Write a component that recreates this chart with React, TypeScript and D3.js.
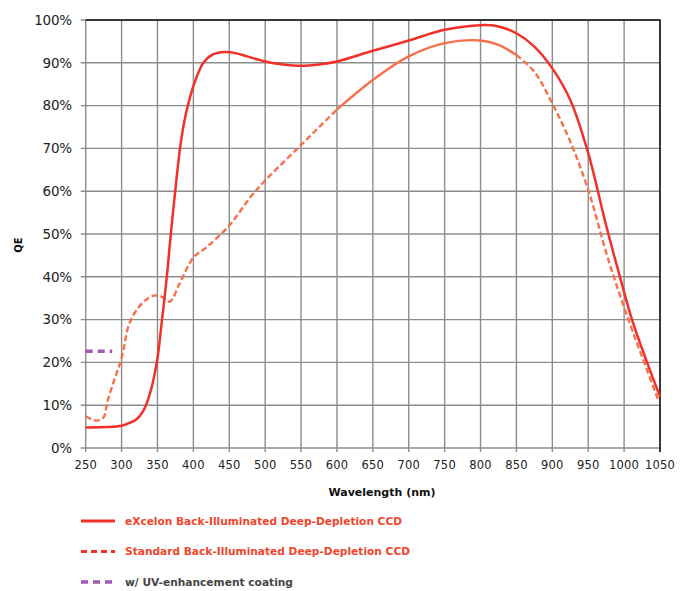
import { useEffect, useRef } from 'react';
import * as d3 from 'd3';

// eXcelon curve (solid red)
const excelonNm = [250, 300, 310, 320, 330, 340, 350, 355, 363, 368, 375, 381, 387, 393, 402, 414, 428, 444, 460, 475, 500, 525, 550, 575, 600, 650, 700, 750, 800, 825, 850, 875, 900, 925, 950, 975, 995, 1011, 1032, 1050];
const excelonQE = [4.8, 5.2, 5.8, 6.6, 8.6, 13, 21, 28, 40, 49, 60.5, 69.5, 76, 80.5, 85.5, 90, 92, 92.5, 92.2, 91.5, 90.3, 89.6, 89.3, 89.6, 90.3, 92.8, 95.2, 97.7, 98.8, 98.5, 96.9, 93.8, 88.7, 81.3, 68.9, 52, 39.5, 30, 20, 12];

// standard back-illuminated curve (orange)
const standardNm = [250, 265, 275, 280, 290, 300, 310, 320, 333, 345, 355, 367, 381, 400, 419, 450, 479, 500, 550, 600, 650, 700, 750, 800, 825, 850, 875, 900, 925, 950, 978, 1006, 1028, 1048];
const standardQE = [7.4, 6.4, 7.2, 10.7, 16, 21, 28.7, 32, 34.5, 35.6, 35.4, 34.2, 38.5, 44.5, 47, 52, 58.5, 62.5, 70.8, 79.1, 86, 91.5, 94.6, 95.2, 94.2, 91.8, 87.9, 80.5, 71.6, 60.3, 44, 30, 20, 11];

// UV enhancement coating
const uvNm = [250, 287];
const uvQE = [22.6, 22.6];

const xTicks = [250, 300, 350, 400, 450, 500, 550, 600, 650, 700, 750, 800, 850, 900, 950, 1000, 1050];
const yTicks = [0, 10, 20, 30, 40, 50, 60, 70, 80, 90, 100];

const legendItems = [
  { label: 'eXcelon Back-Illuminated Deep-Depletion CCD', color: '#f2302a', dash: null, text: '#f0452c', len: 277 },
  { label: 'Standard Back-Illuminated Deep-Depletion CCD', color: '#f2302a', dash: '6,4', text: '#f0452c', len: 285 },
  { label: 'w/ UV-enhancement coating', color: '#a257b5', dash: '7,5', text: '#444', len: 168 },
];

export default function App() {
  const svgRef = useRef<SVGSVGElement>(null);

  useEffect(() => {
    const w = 682;
    const h = 591;
    const svg = d3.select(svgRef.current).attr('width', w).attr('height', h);
    svg.selectAll('*').remove();
    const font = 'DejaVu Sans, sans-serif';

    const x = d3.scaleLinear().domain([250, 1050]).range([85.7, 660]);
    const y = d3.scaleLinear().domain([0, 100]).range([448, 20]);

    // grid
    svg.append('g').selectAll('line').data(xTicks).enter().append('line')
      .attr('x1', d => x(d)).attr('x2', d => x(d))
      .attr('y1', y(0) + 4).attr('y2', y(100))
      .attr('stroke', '#8c8c8c').attr('stroke-width', 1.4);
    svg.append('g').selectAll('line').data(yTicks).enter().append('line')
      .attr('x1', x(250) - 5).attr('x2', x(1050))
      .attr('y1', d => y(d)).attr('y2', d => y(d))
      .attr('stroke', '#8c8c8c').attr('stroke-width', 1.4);

    // top/right frame
    svg.append('path')
      .attr('d', `M${x(250)},${y(100)}H${x(1050)}V${y(0) + 4}`)
      .attr('fill', 'none').attr('stroke', '#111').attr('stroke-width', 1.5);

    // tick labels
    svg.append('g').selectAll('text').data(yTicks).enter().append('text')
      .attr('x', 72).attr('y', d => y(d)).attr('dy', '0.36em')
      .attr('text-anchor', 'end').attr('font-family', font).attr('font-size', 13.5)
      .attr('fill', '#222').attr('letter-spacing', -0.2)
      .text(d => d + '%');
    svg.append('g').selectAll('text').data(xTicks).enter().append('text')
      .attr('x', d => x(d)).attr('y', 469)
      .attr('text-anchor', 'middle').attr('font-family', font).attr('font-size', 11.5)
      .attr('fill', '#222').attr('letter-spacing', 0.2)
      .text(d => d);

    svg.append('text')
      .attr('x', 382).attr('y', 496).attr('text-anchor', 'middle')
      .attr('font-family', font).attr('font-size', 11).attr('font-weight', 'bold')
      .attr('fill', '#111').text('Wavelength (nm)');
    svg.append('text')
      .attr('transform', 'translate(22,245) rotate(-90)').attr('text-anchor', 'middle')
      .attr('font-family', font).attr('font-size', 10).attr('font-weight', 'bold')
      .attr('fill', '#111').text('QE');

    const line = d3.line<[number, number]>()
      .x(d => x(d[0])).y(d => y(d[1]))
      .curve(d3.curveCatmullRom.alpha(0.5));

    // standard curve: dashed at both ends, solid in the middle
    const std: [number, number][] = standardNm.map((d, i) => [d, standardQE[i]]);
    const seg1 = std.filter(d => d[0] <= 600);
    const seg2 = std.filter(d => d[0] >= 600 && d[0] <= 850);
    const seg3 = std.filter(d => d[0] >= 850);
    const stdColor = '#f5714c';
    [[seg1, '6,3'], [seg2, null], [seg3, '6,3']].forEach(([seg, dash]) => {
      svg.append('path').attr('d', line(seg as [number, number][]))
        .attr('fill', 'none').attr('stroke', stdColor).attr('stroke-width', 2.4)
        .attr('stroke-dasharray', dash as string | null);
    });

    svg.append('path').attr('d', line(uvNm.map((d, i) => [d, uvQE[i]] as [number, number])))
      .attr('fill', 'none').attr('stroke', '#a257b5').attr('stroke-width', 3.5)
      .attr('stroke-dasharray', '7,5');

    svg.append('path').attr('d', line(excelonNm.map((d, i) => [d, excelonQE[i]] as [number, number])))
      .attr('fill', 'none').attr('stroke', '#f2302a').attr('stroke-width', 2.5);

    // legend
    const lg = svg.append('g').selectAll('g').data(legendItems).enter().append('g')
      .attr('transform', (d, i) => `translate(0,${521 + i * 30.5})`);
    lg.append('line').attr('x1', 81).attr('x2', 115)
      .attr('stroke', d => d.color).attr('stroke-width', (d, i) => i === 2 ? 3.5 : 3)
      .attr('stroke-dasharray', d => d.dash);
    lg.append('text').attr('x', 125).attr('y', 0).attr('dy', '0.35em')
      .attr('font-family', font).attr('font-size', 10).attr('font-weight', 'bold')
      .attr('fill', d => d.text)
      .attr('textLength', d => d.len).attr('lengthAdjust', 'spacingAndGlyphs')
      .text(d => d.label);
  }, []);

  return (
    <div style={{ position: 'absolute', left: 0, top: 0 }}>
      <svg ref={svgRef} style={{ display: 'block' }}></svg>
    </div>
  );
}
